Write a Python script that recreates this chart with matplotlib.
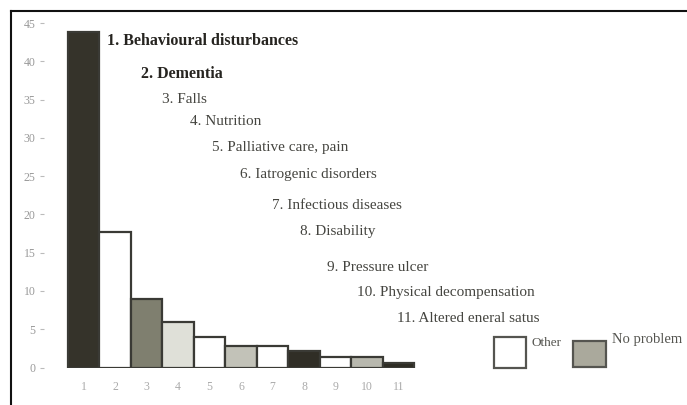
import matplotlib.pyplot as plt
from matplotlib.patches import Rectangle
from matplotlib.lines import Line2D

# ____________________ datos ____________________

categorias = [str(i) for i in range(1, 12)]
valores = [43.8, 17.7, 8.9, 6.0, 4.0, 2.8, 2.8, 2.1, 1.35, 1.35, 0.6]
colores = ['#35332a', '#ffffff', '#7f7f6f', '#dfe0d8', '#ffffff', '#c2c2b8',
           '#ffffff', '#302e26', '#ffffff', '#b8b8ae', '#2e2c24']

etiquetas = ['1. Behavioural disturbances', '2. Dementia', '3. Falls', '4. Nutrition',
             '5. Palliative care, pain', '6. Iatrogenic disorders',
             '7. Infectious diseases', '8. Disability', '9. Pressure ulcer',
             '10. Physical decompensation', '11. Altered eneral satus']
negritas = [True, True] + [False] * 9

yticks = [0, 5, 10, 15, 20, 25, 30, 35, 40, 45]

# posiciones de las etiquetas (x, y en coordenadas de datos)
pos_x = [1.75, 2.83, 3.5, 4.38, 5.08, 5.97, 6.98, 7.87, 8.73, 9.68, 10.95]
pos_y = [42.6, 38.4, 35.0, 32.1, 28.8, 25.2, 21.2, 17.7, 13.0, 9.8, 6.4]

# _______________________ figura __________________________

W, H = 687, 405
fig = plt.figure(figsize=(W / 100, H / 100), dpi=100)
plt.rcParams['font.family'] = ['Liberation Serif', 'DejaVu Serif']

ax = fig.add_axes([44 / W, 1 - 367.5 / H, (W - 44) / W, (367.5 - 23) / H])
x = list(range(1, 12))
ax.bar(x, valores, width=1.0, color=colores, edgecolor='#3a3a35', linewidth=1.6)

ax.set_xlim((44 - 83.5) / 31.5 + 1, (W - 83.5) / 31.5 + 1)
ax.set_ylim(0, 45)
ax.set_yticks(yticks)
ax.set_xticks(x)
ax.set_xticklabels(categorias)
for s in ax.spines.values():
    s.set_visible(False)
ax.tick_params(axis='y', length=3, color='#bbbbbb', labelcolor='#999999',
               labelsize=8.5, pad=3)
ax.tick_params(axis='x', length=0, labelcolor='#aaaaaa', labelsize=8.5, pad=10)

for lab, xx, yy, b in zip(etiquetas, pos_x, pos_y, negritas):
    ax.text(xx, yy, lab, ha='left', va='center',
            fontsize=11.5 if b else 11,
            fontweight='bold' if b else 'normal',
            color='#262420' if b else '#454540')

# leyenda
def caja(x0, y0, w, h, color):
    fig.patches.append(Rectangle((x0 / W, 1 - (y0 + h) / H), w / W, h / H,
                                 transform=fig.transFigure, facecolor=color,
                                 edgecolor='#555550', linewidth=1.6))

caja(494, 337, 32, 31, '#ffffff')
fig.text(531 / W, 1 - 343 / H, 'Other', fontsize=9.5, color='#555550', va='center')
caja(573, 341, 33, 26, '#aaa99c')
fig.text(612 / W, 1 - 339 / H, 'No problem', fontsize=10.5, color='#555550', va='center')

# marco
fig.lines.append(Line2D([11 / W, 1], [1 - 11 / H, 1 - 11 / H], transform=fig.transFigure,
                        color='#111111', linewidth=1.5))
fig.lines.append(Line2D([11 / W, 11 / W], [0, 1 - 11 / H], transform=fig.transFigure,
                        color='#111111', linewidth=1.5))

fig.savefig('out.png', dpi=100)
